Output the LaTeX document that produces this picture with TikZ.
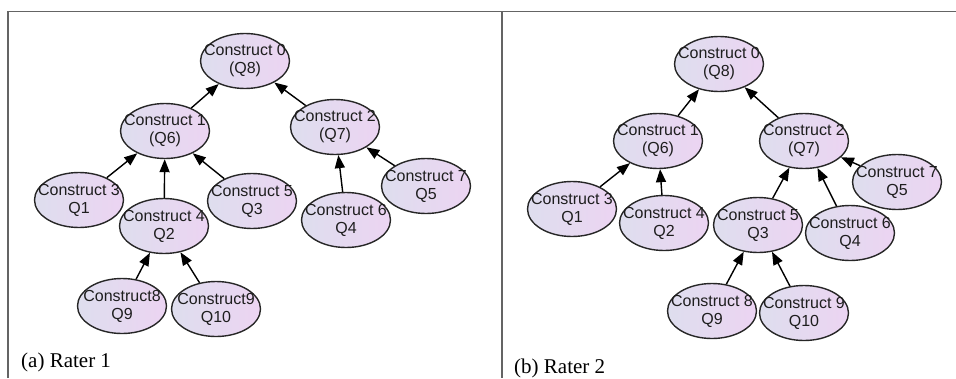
\documentclass[tikz,border=0pt]{standalone}
\usepackage{fontspec}
\setmainfont{Liberation Serif}
\newfontfamily\arialfont{Liberation Sans}
\usetikzlibrary{shapes.geometric,arrows.meta}
\definecolor{fillL}{RGB}{222,222,238}
\definecolor{fillR}{RGB}{236,212,242}
\definecolor{txt}{RGB}{30,30,30}
\definecolor{frame}{RGB}{100,100,100}
\tikzset{
  cons/.style={ellipse, draw=black!85, line width=1.4pt, minimum width=89pt, minimum height=55pt, inner sep=0pt, left color=fillL, right color=fillR, shading angle=90},
  ctext/.style={align=center, inner sep=0pt, text=txt, font=\arialfont\fontsize{16}{18}\selectfont},
  edge/.style={line width=1.4pt, black, -{Triangle[length=13pt,width=10pt]}},
  framel/.style={line width=1.1pt, frame},
  caption/.style={inner sep=0pt, anchor=base west, font=\fontsize{21}{24}\selectfont}
}
\newcommand\cnode[4]{\node[cons] (#1) at (#2) {}; \node[ctext] (#1t) at (#1) {#3\\#4};}
\begin{document}
\begin{tikzpicture}[x=1pt,y=-1pt]
\useasboundingbox (0,0) rectangle (956,378);
% frame
\coordinate (ftl) at (8,11.5);
\coordinate (ftr) at (956,11.5);
\coordinate (fbl) at (8,378);
\coordinate (dtop) at (502,11.5);
\coordinate (dbot) at (502,378);
\draw[framel] (fbl) -- (ftl) -- (ftr);
\draw[framel] (dtop) -- (dbot);
% left panel
\cnode{a0}{245,61}{Construct 0}{(Q8)}
\cnode{a1}{165,131}{Construct 1}{(Q6)}
\cnode{a2}{335,127}{Construct 2}{(Q7)}
\cnode{a3}{79,200}{Construct 3}{Q1}
\cnode{a4}{164,226}{Construct 4}{Q2}
\cnode{a5}{252,201}{Construct 5}{Q3}
\cnode{a6}{346,220}{Construct 6}{Q4}
\cnode{a7}{426,186}{Construct 7}{Q5}
\cnode{a8}{122,306}{Construct8}{Q9}
\cnode{a9}{216,309}{Construct9}{Q10}
\draw[edge] (a1) -- (a0);
\draw[edge] (a2) -- (a0);
\draw[edge] (a3) -- (a1);
\draw[edge] (a4) -- (a1);
\draw[edge] (a5) -- (a1);
\draw[edge] (a6) -- (a2);
\draw[edge] (a7) -- (a2);
\draw[edge] (a8) -- (a4);
\draw[edge] (a9) -- (a4);
\node[caption] (capa) at (21,367) {(a) Rater 1};
% right panel
\cnode{b0}{719,64}{Construct 0}{(Q8)}
\cnode{b1}{658,141}{Construct 1}{(Q6)}
\cnode{b2}{804,141}{Construct 2}{(Q7)}
\cnode{b3}{572,209}{Construct 3}{Q1}
\cnode{b4}{664,223}{Construct 4}{Q2}
\cnode{b5}{758,225}{Construct 5}{Q3}
\cnode{b6}{850,233}{Construct 6}{Q4}
\cnode{b7}{897,182}{Construct 7}{Q5}
\cnode{b8}{712,311}{Construct 8}{Q9}
\cnode{b9}{804,313}{Construct 9}{Q10}
\draw[edge] (b1) -- (b0);
\draw[edge] (b2) -- (b0);
\draw[edge] (b3) -- (b1);
\draw[edge] (b4) -- (b1);
\draw[edge] (b5) -- (b2);
\draw[edge] (b6) -- (b2);
\draw[edge] (b7) -- (b2);
\draw[edge] (b8) -- (b5);
\draw[edge] (b9) -- (b5);
\node[caption] (capb) at (514,373) {(b) Rater 2};
\end{tikzpicture}
\end{document}
